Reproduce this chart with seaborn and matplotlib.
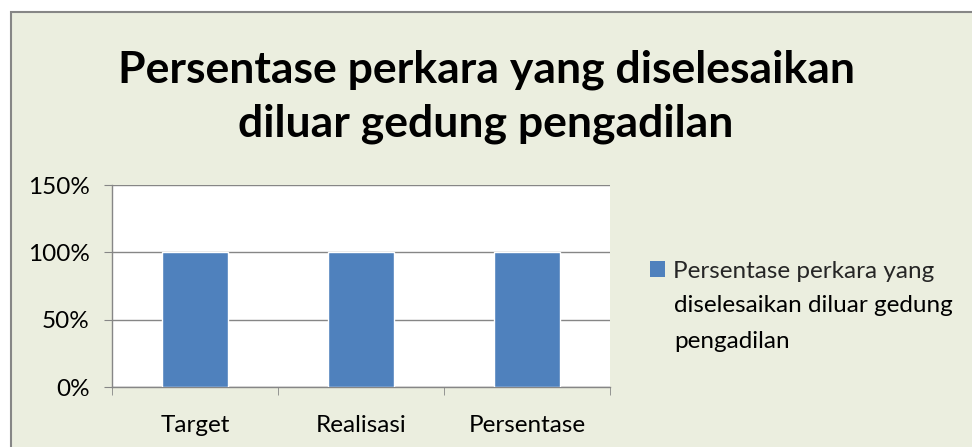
import matplotlib
matplotlib.use("Agg")
import matplotlib.pyplot as plt
import seaborn as sns
import pandas as pd
from matplotlib.patches import Rectangle, Patch
from matplotlib.ticker import FuncFormatter

categories = ["Target", "Realisasi", "Persentase"]
values = [1.0, 1.0, 1.0]
series_lines = ["Persentase perkara yang", "diselesaikan diluar gedung", "pengadilan"]
title = "Persentase perkara yang diselesaikan\ndiluar gedung pengadilan"
yticks = [0, 0.5, 1.0, 1.5]

sns.set_style("white")
plt.rcParams['font.family'] = ['Lato', 'DejaVu Sans']

bg = "#EBEEDF"
bar_color = "#4F81BD"
grid_color = "#868686"
fs = 17.5

fig = plt.figure(figsize=(9.72, 4.47), dpi=100)
fig.patch.set_facecolor("white")
border = Rectangle((11/972, -0.1), 1.2, 1 - 12/447 + 0.1, transform=fig.transFigure,
                   facecolor=bg, edgecolor=grid_color, linewidth=1.5, zorder=-5)
fig.patches.append(border)

ax = fig.add_axes([112/972, 1 - 387/447, 498/972, 202/447])
ax.set_zorder(2)
df = pd.DataFrame({"cat": categories, "val": values})
sns.barplot(data=df, x="cat", y="val", color=bar_color, width=0.4, saturation=1, ax=ax, zorder=3)

ax.set_facecolor("white")
ax.set_xlim(-0.5, 2.5)
ax.set_ylim(0, 1.5)
ax.set_yticks(yticks)
ax.yaxis.set_major_formatter(FuncFormatter(lambda v, p: f"{v*100:.0f}%"))
ax.grid(axis="y", color=grid_color, linewidth=1, zorder=0)
ax.set_axisbelow(True)
ax.set_xlabel("")
ax.set_ylabel("")
for s in ["top", "right"]:
    ax.spines[s].set_visible(False)
for s in ["left", "bottom"]:
    ax.spines[s].set_color(grid_color)
    ax.spines[s].set_linewidth(1)

ax.set_xticks([0, 1, 2])
ax.set_xticklabels(categories)
ax.set_xticks([-0.5, 0.5, 1.5, 2.5], minor=True)
ax.tick_params(axis="x", which="major", length=0, labelsize=fs, pad=20, colors="black")
ax.tick_params(axis="x", which="minor", length=6, color=grid_color, direction="out", bottom=True)
ax.tick_params(axis="y", which="major", length=6, color=grid_color, direction="out", left=True,
               labelsize=fs, pad=10, labelcolor="black")

fig.text(0.5, 1 - 97/447, title, ha="center", va="center", fontsize=32, fontweight="bold",
         linespacing=1.42, color="black")

handle = Patch(facecolor=bar_color, edgecolor="none")
leg = fig.legend([handle], [series_lines[0]], loc="center left",
                 bbox_to_anchor=(650/972, 1 - 271/447),
                 frameon=False, fontsize=fs, handlelength=0.6, handleheight=0.6,
                 handletextpad=0.35, borderpad=0, borderaxespad=0)
for i, line in enumerate(series_lines[1:], start=1):
    fig.text(674/972, 1 - (271 + 35 * i)/447, line, ha="left", va="center", fontsize=fs,
             color="black")

fig.savefig("out.png", dpi=100, facecolor=fig.get_facecolor())
